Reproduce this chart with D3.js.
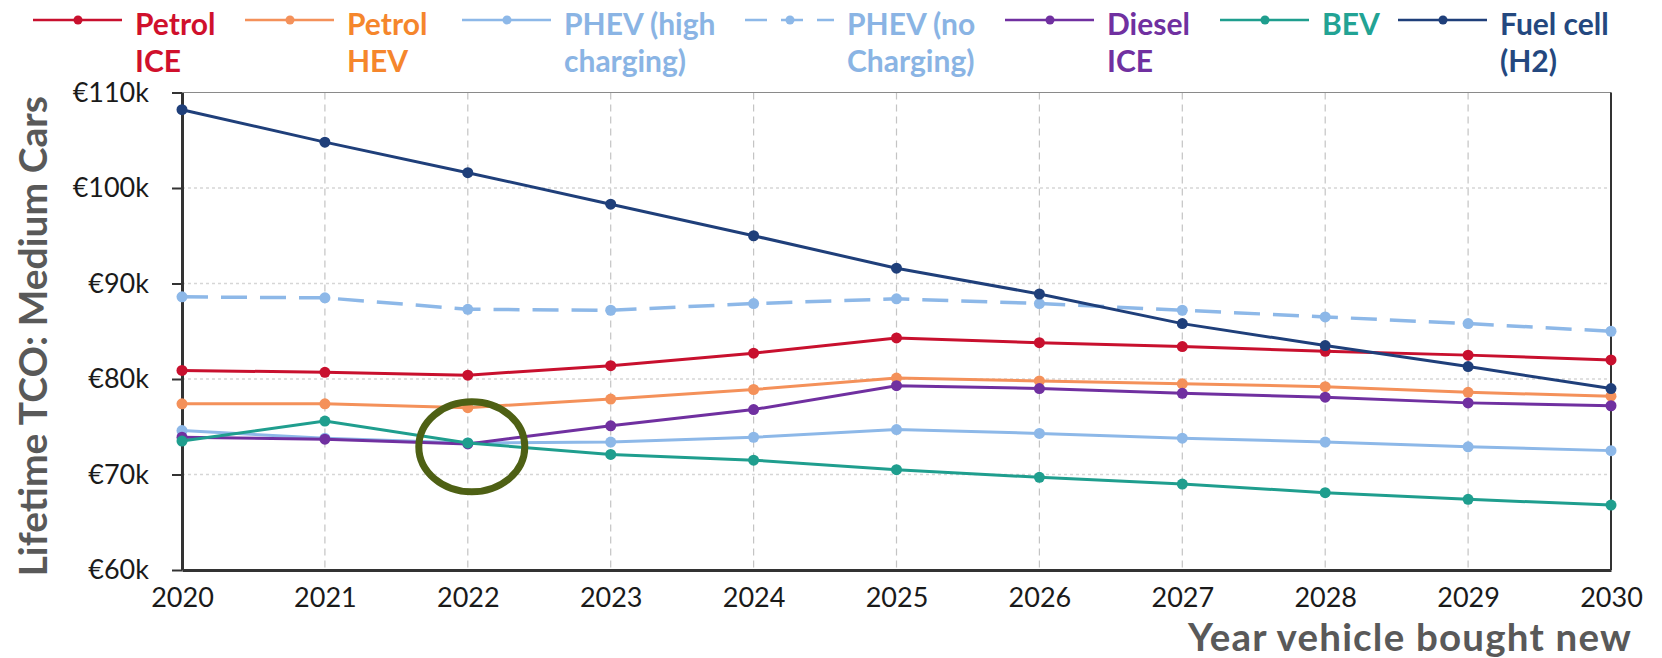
<!DOCTYPE html>
<html>
<head>
<meta charset="utf-8">
<script src="https://cdn.jsdelivr.net/npm/d3@7"></script>
<style>
  html, body { margin: 0; padding: 0; background: #fff; }
  svg { display: block; font-family: Lato, "Open Sans", sans-serif; }
</style>
</head>
<body>
<svg id="chart" width="1662" height="658"></svg>
<script>
// Lifetime total cost of ownership, medium cars, in thousands of euros
const years = [2020, 2021, 2022, 2023, 2024, 2025, 2026, 2027, 2028, 2029, 2030];
const yTicks = [60, 70, 80, 90, 100, 110];

const petrolICE = [80.9, 80.7, 80.4, 81.4, 82.7, 84.3, 83.8, 83.4, 82.9, 82.5, 82.0];
const petrolHEV = [77.4, 77.4, 77.0, 77.9, 78.9, 80.1, 79.8, 79.5, 79.2, 78.6, 78.2];
const phevHigh  = [74.6, 73.8, 73.3, 73.4, 73.9, 74.7, 74.3, 73.8, 73.4, 72.9, 72.5];
const phevNo    = [88.6, 88.5, 87.3, 87.2, 87.9, 88.4, 87.9, 87.2, 86.5, 85.8, 85.0];
const dieselICE = [73.9, 73.7, 73.2, 75.1, 76.8, 79.3, 79.0, 78.5, 78.1, 77.5, 77.2];
const bev       = [73.5, 75.6, 73.3, 72.1, 71.5, 70.5, 69.7, 69.0, 68.1, 67.4, 66.8];
const fuelCell  = [108.2, 104.8, 101.6, 98.3, 95.0, 91.6, 88.9, 85.8, 83.5, 81.3, 79.0];

const seriesNames = [["Petrol", "ICE"], ["Petrol", "HEV"], ["PHEV (high", "charging)"],
                     ["PHEV (no", "Charging)"], ["Diesel", "ICE"], ["BEV"], ["Fuel cell", "(H2)"]];
const seriesValues = [petrolICE, petrolHEV, phevHigh, phevNo, dieselICE, bev, fuelCell];
const lineColors = ["#c8102e", "#f4915a", "#8db8e8", "#8db8e8", "#7030a0", "#1f9e8e", "#1f3f7a"];
const textColors = ["#d0102c", "#f5862c", "#8ab4e4", "#8ab4e4", "#7030a0", "#22a394", "#24487f"];
const dashed = [false, false, false, true, false, false, false];

// highlighted crossover point
const highlight = { year: 2022, value: 72.9 };

const svg = d3.select("#chart");
const x = d3.scaleLinear().domain([2020, 2030]).range([182, 1611]);
const y = d3.scaleLinear().domain([60, 110]).range([570, 92.5]);

// gridlines
svg.append("g").selectAll("line").data(yTicks.slice(1, -1)).join("line")
  .attr("x1", x(2020)).attr("x2", x(2030))
  .attr("y1", d => y(d)).attr("y2", d => y(d))
  .attr("stroke", "#d6d6d6").attr("stroke-width", 1.3).attr("stroke-dasharray", "3,3");
svg.append("g").selectAll("line").data(years.slice(1, -1)).join("line")
  .attr("x1", d => x(d)).attr("x2", d => x(d))
  .attr("y1", y(110)).attr("y2", y(60))
  .attr("stroke", "#c4c4c4").attr("stroke-width", 1.2).attr("stroke-dasharray", "7,5");

// frame: top and right edges
svg.append("line").attr("x1", x(2020)).attr("x2", x(2030)).attr("y1", y(110)).attr("y2", y(110))
  .attr("stroke", "#8a8a8a").attr("stroke-width", 1);
svg.append("line").attr("x1", x(2030)).attr("x2", x(2030)).attr("y1", y(110)).attr("y2", y(60))
  .attr("stroke", "#333").attr("stroke-width", 2);

// axes
const yAxis = svg.append("g").attr("transform", `translate(${x(2020)},0)`)
  .call(d3.axisLeft(y).tickValues(yTicks).tickFormat(d => `€${d}k`).tickSize(10).tickPadding(23).tickSizeOuter(0));
const xAxis = svg.append("g").attr("transform", `translate(0,${y(60)})`)
  .call(d3.axisBottom(x).tickValues(years).tickFormat(d3.format("d")).tickSize(0).tickPadding(18).tickSizeOuter(0));
[yAxis, xAxis].forEach(g => {
  g.select(".domain").attr("stroke", "#333").attr("stroke-width", 3);
  g.selectAll(".tick line").attr("stroke", "#333").attr("stroke-width", 2);
  g.selectAll(".tick text").attr("fill", "#1a1a1a").style("font-size", "27px")
    .style("font-family", "Lato, sans-serif");
});

// series
const line = d3.line().x((d, i) => x(years[i])).y(d => y(d));
seriesValues.forEach((vals, k) => {
  const g = svg.append("g");
  g.append("path").datum(vals).attr("d", line)
    .attr("fill", "none").attr("stroke", lineColors[k])
    .attr("stroke-width", dashed[k] ? 3.5 : 3)
    .attr("stroke-dasharray", dashed[k] ? "26,13" : null);
  g.selectAll("circle").data(vals).join("circle")
    .attr("cx", (d, i) => x(years[i])).attr("cy", d => y(d)).attr("r", 5.5)
    .attr("fill", lineColors[k]);
});

// highlight ring
svg.append("ellipse")
  .attr("cx", x(highlight.year) + 4).attr("cy", y(highlight.value))
  .attr("rx", 53).attr("ry", 45)
  .attr("fill", "none").attr("stroke", "#4e6014").attr("stroke-width", 7);

// legend
const legendX = [33, 245, 462, 745, 1005, 1220, 1398];
const legend = svg.append("g");
seriesNames.forEach((lines, k) => {
  const g = legend.append("g").attr("transform", `translate(${legendX[k]},0)`);
  g.append("line").attr("x1", 0).attr("x2", 89).attr("y1", 20).attr("y2", 20)
    .attr("stroke", lineColors[k]).attr("stroke-width", 2.5)
    .attr("stroke-dasharray", dashed[k] ? "22,14" : null);
  g.append("circle").attr("cx", 45).attr("cy", 20).attr("r", 4.5).attr("fill", lineColors[k]);
  lines.forEach((t, j) => {
    g.append("text").attr("x", 102).attr("y", 35 + j * 37).text(t)
      .attr("fill", textColors[k]).style("font-size", "30px").style("font-weight", 700);
  });
});

// axis titles
svg.append("text").attr("x", 1632).attr("y", 651).attr("text-anchor", "end")
  .attr("fill", "#595959").style("font-size", "38.5px").style("font-weight", 700)
  .style("letter-spacing", "1.2px")
  .text("Year vehicle bought new");
svg.append("text").attr("transform", `translate(47,${(y(60) + y(110)) / 2 + 5}) rotate(-90)`)
  .attr("text-anchor", "middle")
  .attr("fill", "#595959").style("font-size", "39px").style("font-weight", 700)
  .text("Lifetime TCO: Medium Cars");
</script>
</body>
</html>
